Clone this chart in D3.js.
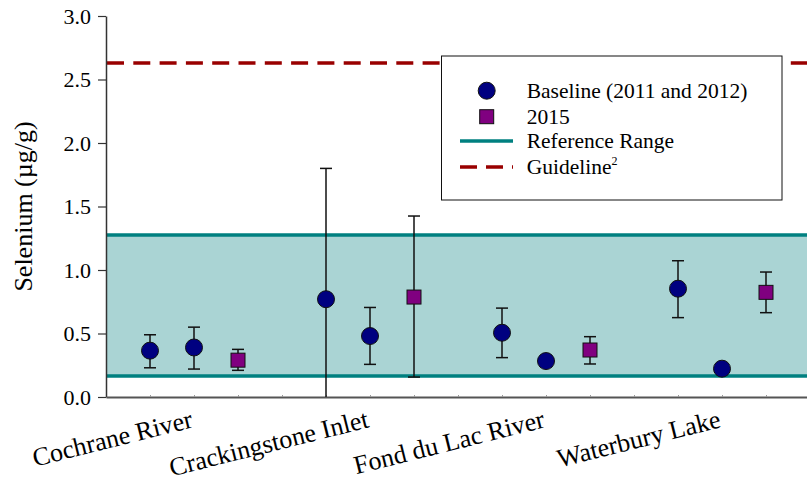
<!DOCTYPE html>
<html><head><meta charset="utf-8">
<script src="https://cdn.jsdelivr.net/npm/d3@7"></script>
</head><body style="margin:0"><svg id="c" width="807" height="484" style="display:block"></svg>
<script>
const sites = ["Cochrane River","Crackingstone Inlet","Fond du Lac River","Waterbury Lake"];
const base2011 = [0.365, 0.77, 0.506, 0.853];
const base2011Lo = [0.23, -0.26, 0.31, 0.625];
const base2011Hi = [0.49, 1.80, 0.70, 1.073];
const base2012 = [0.39, 0.48, 0.283, 0.223];
const base2012Lo = [0.22, 0.257, null, null];
const base2012Hi = [0.55, 0.705, null, null];
const y2015 = [0.29, 0.787, 0.37, 0.824];
const y2015Lo = [0.21, 0.157, 0.26, 0.664];
const y2015Hi = [0.375, 1.425, 0.475, 0.984];
const refRange = [0.165, 1.276];
const guideline = 2.63;
const yTicks = [0.0, 0.5, 1.0, 1.5, 2.0, 2.5, 3.0];
const legendLabels = ["Baseline (2011 and 2012)", "2015", "Reference Range", "Guideline"];

const FONT = '"Liberation Serif", "Times New Roman", Times, serif';
const svg = d3.select("#c");
const L = 106, R = 810, T = 16, B = 397;
const x = d3.scaleLinear().domain([0, 16]).range([L, R]);
const y = d3.scaleLinear().domain([0, 3]).range([B, T]);

svg.append("defs").append("clipPath").attr("id","pc")
  .append("rect").attr("x", L).attr("y", T).attr("width", R - L).attr("height", B - T);

// reference band
svg.append("rect").attr("x", x(0)+1).attr("width", x(16)-x(0))
  .attr("y", y(refRange[1])).attr("height", y(refRange[0]) - y(refRange[1]))
  .attr("fill", "#aad4d4");
refRange.forEach(v => svg.append("line").attr("x1", x(0)+1).attr("x2", x(16))
  .attr("y1", y(v)).attr("y2", y(v)).attr("stroke", "#008080").attr("stroke-width", 3.5));
// guideline
svg.append("line").attr("x1", x(0)+1).attr("x2", x(16)).attr("y1", y(guideline)).attr("y2", y(guideline))
  .attr("stroke", "#990000").attr("stroke-width", 3.5).attr("stroke-dasharray", "17,9.3");

// axes
const yAxis = d3.axisLeft(y).tickValues(yTicks).tickFormat(d3.format(".1f")).tickSize(8).tickSizeOuter(0);
const gy = svg.append("g").attr("transform", `translate(${L},0)`).call(yAxis);
gy.attr("font-family", null).attr("font-size", null);
gy.select(".domain").attr("stroke", "#333").attr("stroke-width", 1.5);
gy.selectAll(".tick line").attr("stroke", "#333").attr("stroke-width", 1.2);
gy.selectAll(".tick text").style("font-family", FONT).style("font-size", "22px").attr("fill", "#000").attr("x", -15);

const xAxis = d3.axisBottom(x).tickValues(d3.range(1, 16)).tickSize(-2).tickFormat("").tickSizeOuter(0);
const gx = svg.append("g").attr("transform", `translate(0,${B})`).call(xAxis);
gx.select(".domain").attr("stroke", "#555").attr("stroke-width", 2);
gx.selectAll(".tick line").attr("stroke", "#999");

// x labels
sites.forEach((s, i) => {
  const cx = x(4*i + 2);
  svg.append("text").attr("transform", `translate(${cx},427) rotate(-14)`)
    .attr("text-anchor", "end").style("font-family", FONT).style("font-size", "26px").text(s);
});

// y label
svg.append("text").attr("transform", `translate(32,${(T+B)/2}) rotate(-90)`)
  .attr("text-anchor", "middle").style("font-family", FONT).style("font-size", "26px").text("Selenium (µg/g)");

// points
const pts = [];
sites.forEach((s, i) => {
  pts.push({slot: 4*i+1, v: base2011[i], lo: base2011Lo[i], hi: base2011Hi[i], type: "c"});
  pts.push({slot: 4*i+2, v: base2012[i], lo: base2012Lo[i], hi: base2012Hi[i], type: "c"});
  pts.push({slot: 4*i+3, v: y2015[i], lo: y2015Lo[i], hi: y2015Hi[i], type: "s"});
});
const eg = svg.append("g").attr("clip-path", "url(#pc)");
pts.filter(p => p.lo !== null).forEach(p => {
  const cx = x(p.slot);
  eg.append("line").attr("x1", cx).attr("x2", cx).attr("y1", y(p.lo)).attr("y2", y(p.hi)).attr("stroke", "#111").attr("stroke-width", 1.5);
  [p.lo, p.hi].forEach(v => { if (v >= 0) eg.append("line").attr("x1", cx-6).attr("x2", cx+6).attr("y1", y(v)).attr("y2", y(v)).attr("stroke", "#111").attr("stroke-width", 1.5); });
});
pts.forEach(p => {
  if (p.type === "c") svg.append("circle").attr("cx", x(p.slot)).attr("cy", y(p.v)).attr("r", 8.5)
    .attr("fill", "#000080").attr("stroke", "#111").attr("stroke-width", 1);
  else svg.append("rect").attr("x", x(p.slot)-7).attr("y", y(p.v)-7).attr("width", 14).attr("height", 14)
    .attr("fill", "#800080").attr("stroke", "#111").attr("stroke-width", 1);
});

// legend
const lg = svg.append("g");
lg.append("rect").attr("x", 441.5).attr("y", 56).attr("width", 340.5).attr("height", 144)
  .attr("fill", "#fff").attr("stroke", "#111").attr("stroke-width", 1);
const rows = [90.7, 116.7, 141, 167];
lg.append("circle").attr("cx", 486.7).attr("cy", rows[0]).attr("r", 8.5).attr("fill", "#000080").attr("stroke", "#111");
lg.append("rect").attr("x", 479.7).attr("y", rows[1]-7).attr("width", 14).attr("height", 14).attr("fill", "#800080").attr("stroke", "#111");
lg.append("line").attr("x1", 460).attr("x2", 513).attr("y1", rows[2]).attr("y2", rows[2]).attr("stroke", "#008080").attr("stroke-width", 3.5);
lg.append("line").attr("x1", 460).attr("x2", 513).attr("y1", rows[3]).attr("y2", rows[3]).attr("stroke", "#990000").attr("stroke-width", 3.5).attr("stroke-dasharray", "17,9");
legendLabels.forEach((t, i) => {
  const tx = lg.append("text").attr("x", 526.7).attr("y", rows[i] + 7).style("font-family", FONT).style("font-size", "21.5px").text(t);
  if (i === 3) tx.append("tspan").style("font-size", "12px").attr("dy", -9).text("2");
});
</script></body></html>
